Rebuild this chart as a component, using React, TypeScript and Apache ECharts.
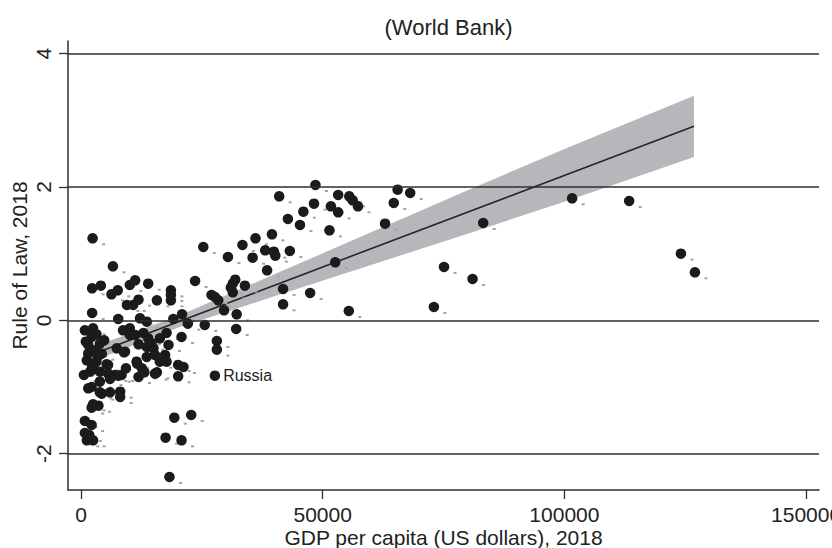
import React, { useEffect, useRef } from "react";
import * as echarts from "echarts";

// GDP per capita (US dollars), 2018 and Rule of Law, 2018 for each country
const gdp = [
  68100, 101600, 113400, 83200, 75100, 81000, 73000, 124100, 127000, 48500,
  53200, 55500, 56200, 57300, 48200, 51700, 53200, 46000, 45300, 51400,
  65500, 64700, 62900, 52600, 43200, 47400, 55400, 41000, 42800, 39500,
  36100, 33400, 25300, 38100, 39900, 40200, 30400, 35500, 38500, 23600,
  31900, 31400, 31000, 33900, 31400, 27000, 27700, 28400, 41800, 41800,
  20900, 29600, 32200, 32100, 28100, 28100, 25600, 2400, 6600, 2300,
  4100, 6300, 7600, 10100, 11200, 13900, 9500, 11900, 10800, 15700,
  18600, 18600, 18600, 2300, 7700, 12200, 13600, 19100, 22100, 2200,
  3200, 3900, 1500, 1500, 2900, 4300, 1200, 3200, 5300, 1900,
  3900, 7000, 8400, 7400, 8900, 8700, 10100, 11200, 12900, 13900,
  14600, 13600, 15000, 11900, 11500, 13600, 15300, 17400, 17700, 17700,
  18100, 16300, 20800, 20100, 21200, 20100, 15700, 13100, 11600, 9300,
  7700, 6000, 3900, 1500, 3900, 6000, 8100, 8100, 2200, 3600,
  800, 2200, 800, 2500, 1200, 1700, 19300, 22800, 17500, 20800,
  18300, 5600, 9100, 10100, 16300, 2200, 4300, 2500, 12600, 15300,
  11900, 800, 2500, 1000, 2300, 4800, 600, 3500, 5600,
];
const rule = [
  1.91, 1.83, 1.79, 1.46, 0.8, 0.62, 0.2, 1.0, 0.72, 2.03,
  1.88, 1.86, 1.8, 1.71, 1.75, 1.71, 1.62, 1.63, 1.43, 1.35,
  1.96, 1.76, 1.45, 0.87, 1.04, 0.41, 0.14, 1.86, 1.52, 1.29,
  1.23, 1.13, 1.1, 1.05, 1.03, 0.97, 0.95, 0.94, 0.75, 0.59,
  0.61, 0.55, 0.49, 0.52, 0.42, 0.38, 0.35, 0.3, 0.47, 0.24,
  0.09, 0.15, 0.09, -0.13, -0.31, -0.44, -0.07, 1.23, 0.81, 0.48,
  0.52, 0.39, 0.45, 0.53, 0.6, 0.55, 0.23, 0.31, 0.23, 0.3,
  0.45, 0.38, 0.3, 0.11, 0.02, 0.03, -0.02, 0.02, -0.05, -0.25,
  -0.21, -0.35, -0.37, -0.5, -0.45, -0.5, -0.6, -0.62, -0.66, -0.77,
  -0.77, -0.82, -0.82, -0.42, -0.48, -0.15, -0.12, -0.22, -0.19, -0.27,
  -0.35, -0.4, -0.42, -0.36, -0.62, -0.55, -0.52, -0.52, -0.62, -0.19,
  -0.37, -0.27, -0.25, -0.67, -0.7, -0.84, -0.78, -0.78, -0.65, -0.72,
  -0.83, -0.88, -0.92, -1.02, -1.08, -1.08, -1.07, -1.15, -1.31, -1.28,
  -1.51, -1.57, -1.69, -1.8, -1.8, -1.72, -1.46, -1.42, -1.76, -1.8,
  -2.35, -0.67, -0.47, -0.22, -0.62, -1.0, -1.1, -1.26, -0.72, -0.8,
  -0.85, -0.15, -0.12, -0.32, -0.69, -0.3, -0.82, -0.54, -0.8,
];

// Labelled country
const namedCountries = ["Russia"];
const namedGdp = [27700];
const namedRule = [-0.83];

// Linear fit and its confidence band
const fitGdp = [500, 126800];
const fitRule = [-0.56, 2.91];
const bandGdp = [500, 20000, 40000, 60000, 80000, 100000, 126800];
const bandLow = [-0.67, -0.11, 0.36, 0.83, 1.3, 1.78, 2.45];
const bandHigh = [-0.45, 0.06, 0.69, 1.32, 1.95, 2.57, 3.37];

// Axes
const xTicks = [0, 50000, 100000, 150000];
const yTicks = [-2, 0, 2, 4];
const xMin = -2690;
const xMax = 152670;
const yMin = -2.545;
const yMax = 4.19;

const FONT = "'Liberation Sans', Arial, sans-serif";
const INK = "#222222";
const LINE = "#2e2e2e";

export default function App() {
  const ref = useRef<HTMLDivElement>(null);

  useEffect(() => {
    if (!ref.current) return;
    const chart = echarts.init(ref.current, undefined, { renderer: "svg" });

    const points = gdp.map((g, i) => [g, rule[i]]);
    const named = namedGdp.map((g, i) => ({ value: [g, namedRule[i]], name: namedCountries[i] }));

    chart.setOption({
      animation: false,
      backgroundColor: "#ffffff",
      textStyle: { fontFamily: FONT },
      title: {
        text: "(World Bank)",
        left: 443.5,
        top: 11,
        textAlign: "center",
        textStyle: { fontFamily: FONT, fontSize: 22, fontWeight: "normal", color: INK },
      },
      grid: { left: 68, right: 13, top: 41, bottom: 58, containLabel: false, outerBoundsMode: "none" },
      xAxis: {
        type: "value",
        min: xMin,
        max: xMax,
        name: "GDP per capita (US dollars), 2018",
        nameLocation: "middle",
        nameGap: 37,
        nameMoveOverlap: false,
        nameTextStyle: { fontFamily: FONT, fontSize: 21, color: INK },
        axisLine: { show: true, onZero: false, lineStyle: { color: LINE, width: 1.5 } },
        axisTick: { show: true, length: 9, customValues: xTicks, lineStyle: { color: LINE, width: 1.3 } },
        axisLabel: {
          customValues: xTicks,
          margin: 14,
          fontFamily: FONT,
          fontSize: 21,
          color: INK,
          hideOverlap: false,
          formatter: (v: number) => String(v),
        },
        splitLine: { show: false },
      },
      yAxis: {
        type: "value",
        min: yMin,
        max: yMax,
        name: "Rule of Law, 2018",
        nameLocation: "middle",
        nameRotate: 90,
        nameGap: 38,
        nameMoveOverlap: false,
        nameTextStyle: { fontFamily: FONT, fontSize: 21, color: INK },
        axisLine: { show: true, onZero: false, lineStyle: { color: LINE, width: 1.5 } },
        axisTick: { show: true, length: 9, customValues: yTicks, lineStyle: { color: LINE, width: 1.3 } },
        axisLabel: {
          customValues: yTicks,
          rotate: 90,
          margin: 14,
          fontFamily: FONT,
          fontSize: 21,
          color: INK,
          formatter: (v: number) => String(v),
        },
        splitLine: { show: false },
      },
      series: [
        {
          type: "line",
          z: 1,
          data: [],
          silent: true,
          markLine: {
            silent: true,
            symbol: "none",
            label: { show: false },
            lineStyle: { color: LINE, width: 1.5, type: "solid" },
            data: yTicks.map((v) => ({ yAxis: v })),
          },
        },
        {
          type: "custom",
          z: 2,
          silent: true,
          data: [[bandGdp[0], bandLow[0]]],
          renderItem: (params: any, api: any) => {
            const pts: number[][] = [];
            for (let i = 0; i < bandGdp.length; i++) pts.push(api.coord([bandGdp[i], bandHigh[i]]));
            for (let i = bandGdp.length - 1; i >= 0; i--) pts.push(api.coord([bandGdp[i], bandLow[i]]));
            return { type: "polygon", shape: { points: pts }, style: { fill: "#b6b7ba" } };
          },
        },
        {
          type: "line",
          z: 3,
          silent: true,
          symbol: "none",
          data: fitGdp.map((g, i) => [g, fitRule[i]]),
          lineStyle: { color: "#262626", width: 1.6 },
        },
        {
          type: "scatter",
          z: 3,
          silent: true,
          symbol: "rect",
          symbolSize: [3, 2],
          symbolOffset: [11, 6],
          itemStyle: { color: "#a4a4a4", opacity: 1 },
          data: points,
        },
        {
          type: "scatter",
          z: 4,
          symbol: "circle",
          symbolSize: 10.5,
          itemStyle: { color: "#1b1b1b", opacity: 1 },
          data: points,
        },
        {
          type: "scatter",
          z: 4,
          symbol: "circle",
          symbolSize: 10.5,
          itemStyle: { color: "#1b1b1b", opacity: 1 },
          data: named,
          label: {
            show: true,
            position: "right",
            distance: 3,
            formatter: (p: any) => p.name,
            fontFamily: FONT,
            fontSize: 16,
            color: INK,
          },
        },
      ],
    });

    return () => chart.dispose();
  }, []);

  return (
    <div
      ref={ref}
      style={{ position: "absolute", left: 0, top: 0, width: 832, height: 548 }}
    />
  );
}
